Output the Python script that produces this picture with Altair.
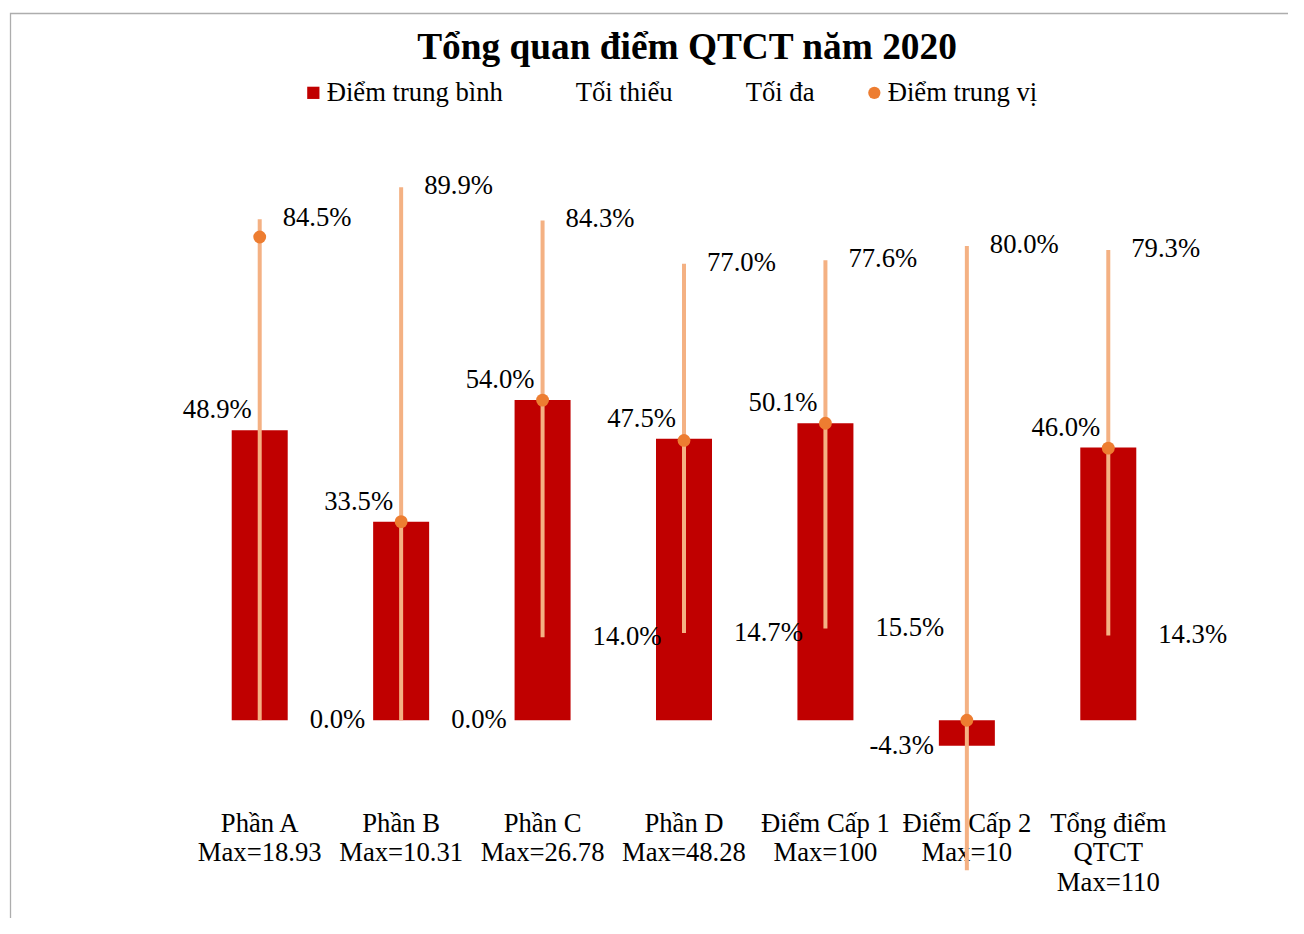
import altair as alt
import pandas as pd

# ---- data ----
categories = ["Phần A", "Phần B", "Phần C", "Phần D", "Điểm Cấp 1", "Điểm Cấp 2", "Tổng điểm|QTCT"]
max_scores = ["18.93", "10.31", "26.78", "48.28", "100", "10", "110"]
mean_vals = [0.489, 0.335, 0.540, 0.475, 0.501, -0.043, 0.460]
min_vals = [0.000, 0.000, 0.140, 0.147, 0.155, -0.253, 0.143]
max_vals = [0.845, 0.899, 0.843, 0.770, 0.776, 0.800, 0.793]
median_vals = [0.815, 0.335, 0.540, 0.472, 0.501, 0.000, 0.459]
series = ["Điểm trung bình", "Tối thiểu", "Tối đa", "Điểm trung vị"]
title_text = "Tổng quan điểm QTCT năm 2020"

cat_labels = [f"{c}|Max={m}" for c, m in zip(categories, max_scores)]
df = pd.DataFrame({
    "cat": cat_labels,
    "mean": mean_vals,
    "min": min_vals,
    "max": max_vals,
    "median": median_vals,
})

FONT = "Liberation Serif"
FS = 26.67
RED = "#C00000"
LINE = "#F4B183"
DOT = "#ED7D31"

W, H = 990, 654
PAD = {"left": 181, "top": 149, "right": 109, "bottom": 107}

x = alt.X(
    "cat:N",
    sort=cat_labels,
    title=None,
    scale=alt.Scale(paddingInner=0, paddingOuter=0),
    axis=alt.Axis(
        labelAngle=0,
        labelExpr="split(datum.label, '|')",
        labelFont=FONT,
        labelFontSize=FS,
        labelColor="#000000",
        labelLineHeight=29.5,
        labelBaseline="top",
        labelPadding=-1,
        domain=False,
        ticks=False,
        grid=False,
    ),
)
yscale = alt.Scale(domain=[-0.153, 0.95], nice=False, zero=False)


def fmt(field):
    return f"replace(format(datum['{field}'], '.1%'), '\u2212', '-')"


base = alt.Chart(df).transform_calculate(
    mean_lbl=fmt("mean"), min_lbl=fmt("min"), max_lbl=fmt("max")
)

frame = alt.Chart(pd.DataFrame({"a": [0]})).mark_rect(
    fill="transparent", stroke="#ADADAD", strokeWidth=1.3
).encode(
    x=alt.value(-178.5), x2=alt.value(1150), y=alt.value(-143.5), y2=alt.value(800)
)

bars = base.mark_bar(color=RED, size=56).encode(
    x=x,
    y=alt.Y("mean:Q", scale=yscale, axis=None),
    y2=alt.datum(0),
)

rules = base.mark_rule(color=LINE, strokeWidth=4).encode(
    x=x,
    y=alt.Y("min:Q", scale=yscale, axis=None),
    y2="max:Q",
)

points = base.transform_calculate(series="'Điểm trung vị'").mark_point(
    filled=True, size=165, opacity=1
).encode(
    x=x,
    y=alt.Y("median:Q", scale=yscale, axis=None),
    color=alt.Color(
        "series:N",
        scale=alt.Scale(domain=series, range=[RED, "transparent", "transparent", DOT]),
        legend=alt.Legend(title=None),
    ),
    shape=alt.Shape(
        "series:N",
        scale=alt.Scale(domain=series, range=["square", "circle", "circle", "circle"]),
        legend=alt.Legend(title=None),
    ),
)

txt = dict(font=FONT, fontSize=FS, color="#000000", baseline="middle")

mean_pos = base.transform_filter("datum.mean >= 0").mark_text(
    align="right", dx=-8, dy=-20, **txt
).encode(x=x, y=alt.Y("mean:Q", scale=yscale, axis=None), text="mean_lbl:N")

mean_neg = base.transform_filter("datum.mean < 0").mark_text(
    align="right", dx=-33, dy=0, **txt
).encode(x=x, y=alt.Y("mean:Q", scale=yscale, axis=None), text="mean_lbl:N")

max_txt = base.mark_text(align="left", dx=23, dy=-1, **txt).encode(
    x=x, y=alt.Y("max:Q", scale=yscale, axis=None), text="max_lbl:N"
)

min_txt = base.transform_filter("datum.min >= 0").mark_text(
    align="left", dx=50, dy=0, **txt
).encode(x=x, y=alt.Y("min:Q", scale=yscale, axis=None), text="min_lbl:N")

chart = alt.layer(
    frame, bars, rules, points, mean_pos, mean_neg, max_txt, min_txt
).properties(
    width=W,
    height=H,
    title=alt.Title(
        title_text,
        font=FONT,
        fontSize=37.33,
        fontWeight="bold",
        color="#000000",
        anchor="middle",
        baseline="alphabetic",
        offset=-83,
        dx=3,
    ),
    autosize=alt.AutoSizeParams(type="none"),
    padding=PAD,
).configure_view(stroke=None).configure_legend(
    orient="none",
    legendX=111,
    legendY=-78,
    direction="horizontal",
    labelFont=FONT,
    labelFontSize=FS,
    labelColor="#000000",
    labelLimit=400,
    labelOffset=0,
    columnPadding=46,
    symbolSize=150,
    symbolStrokeWidth=0,
    padding=0,
)

chart.save("out.html", embed_options={"renderer": "svg", "actions": False})
